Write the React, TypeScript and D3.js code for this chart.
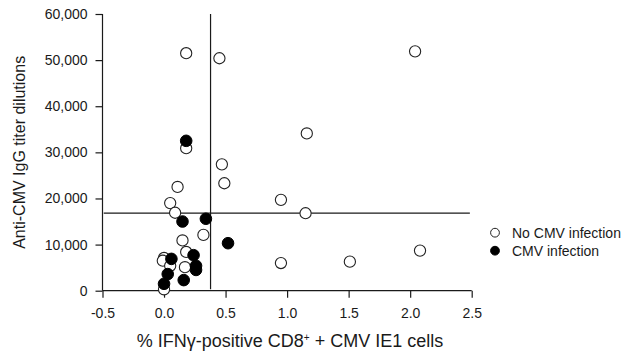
import React, { useEffect, useRef } from "react";
import * as d3 from "d3";

// % IFNg-positive CD8+ cells vs anti-CMV IgG titer
const noInfX = [0.18, 0.45, 2.04, 1.16, 0.18, 0.47, 0.49, 0.11, 0.05, 0.09, 0.95, 1.15, 0.32, 0.15, 0.18, 0.0, -0.01, 0.05, 0.17, 0.0, 0.95, 1.51, 2.08];
const noInfY = [51500, 50400, 51900, 34100, 30900, 27400, 23300, 22500, 19000, 16900, 19700, 16800, 12100, 10900, 8400, 7100, 6500, 5400, 5100, 300, 6000, 6300, 8700];
const infX = [0.18, 0.34, 0.15, 0.52, 0.24, 0.06, 0.26, 0.26, 0.03, 0.16, 0.0];
const infY = [32500, 15600, 15000, 10300, 7700, 6900, 5400, 4500, 3600, 2300, 1500];

const xTicks = [-0.5, 0, 0.5, 1, 1.5, 2, 2.5];
const yTicks = [0, 10000, 20000, 30000, 40000, 50000, 60000];
const cutX = 0.378; // vertical threshold
const cutY = 16800; // horizontal threshold

const legendItems = [
  { label: "No CMV infection", filled: false },
  { label: "CMV infection", filled: true },
];

const FONT = "'Liberation Sans', Arial, Helvetica, sans-serif";
const INK = "#1a1a1a";

const App = () => {
  const svgRef = useRef<SVGSVGElement>(null);

  useEffect(() => {
    const width = 636;
    const height = 354;
    const svg = d3.select(svgRef.current);
    svg.selectAll("*").remove();
    svg.attr("width", width).attr("height", height);

    const x = d3.scaleLinear().domain([-0.5, 2.5]).range([102.5, 471.7]);
    const y = d3.scaleLinear().domain([0, 60000]).range([290.7, 14]);

    // y axis
    const gy = svg
      .append("g")
      .attr("transform", `translate(${x(-0.5)},0)`)
      .call(
        d3
          .axisLeft(y)
          .tickValues(yTicks)
          .tickSize(7)
          .tickPadding(8)
          .tickFormat((d) => d3.format(",")(d as number))
      );
    gy.select(".domain").attr("d", `M0,${y(60000)}V${y(0)}`);

    // x axis
    const gx = svg
      .append("g")
      .attr("transform", `translate(0,${y(0)})`)
      .call(
        d3
          .axisBottom(x)
          .tickValues(xTicks)
          .tickSize(7)
          .tickPadding(10)
          .tickFormat((d) => (d as number).toFixed(1))
      );
    gx.select(".domain").attr("d", `M${x(-0.5)},0H${x(2.5)}`);

    svg.selectAll(".domain").attr("stroke", INK).attr("stroke-width", 1.2);
    svg.selectAll(".tick line").attr("stroke", INK).attr("stroke-width", 1.2);
    svg
      .selectAll(".tick text")
      .attr("fill", INK)
      .style("font-family", FONT)
      .style("font-size", "14px");

    // threshold lines
    svg
      .append("line")
      .attr("x1", x(cutX))
      .attr("x2", x(cutX))
      .attr("y1", y(60000))
      .attr("y2", y(0) - 1.5)
      .attr("stroke", INK)
      .attr("stroke-width", 1.2);
    svg
      .append("line")
      .attr("x1", x(-0.49))
      .attr("x2", x(2.485))
      .attr("y1", y(cutY))
      .attr("y2", y(cutY))
      .attr("stroke", INK)
      .attr("stroke-width", 1.2);

    // points: open first, filled on top
    const open = noInfX.map((v, i) => ({ x: v, y: noInfY[i] }));
    const filled = infX.map((v, i) => ({ x: v, y: infY[i] }));

    svg
      .append("g")
      .selectAll("circle")
      .data(open)
      .join("circle")
      .attr("cx", (d) => x(d.x))
      .attr("cy", (d) => y(d.y))
      .attr("r", 5.6)
      .attr("fill", "white")
      .attr("stroke", "#222")
      .attr("stroke-width", 1.1);

    svg
      .append("g")
      .selectAll("circle")
      .data(filled)
      .join("circle")
      .attr("cx", (d) => x(d.x))
      .attr("cy", (d) => y(d.y))
      .attr("r", 5.8)
      .attr("fill", "#000")
      .attr("stroke", "#000")
      .attr("stroke-width", 1);

    // legend
    const legend = svg.append("g").attr("transform", "translate(495,232.7)");
    legendItems.forEach((item, i) => {
      const row = legend.append("g").attr("transform", `translate(0,${i * 18})`);
      row
        .append("circle")
        .attr("r", 4.4)
        .attr("fill", item.filled ? "#000" : "white")
        .attr("stroke", item.filled ? "#000" : "#222")
        .attr("stroke-width", 1);
      row
        .append("text")
        .attr("x", 17)
        .attr("y", 5)
        .attr("fill", INK)
        .style("font-family", FONT)
        .style("font-size", "14px")
        .text(item.label);
    });

    // axis titles
    const xt = svg
      .append("text")
      .attr("x", 290)
      .attr("y", 347)
      .attr("text-anchor", "middle")
      .attr("fill", INK)
      .style("font-family", FONT)
      .style("font-size", "18px");
    xt.append("tspan").text("% IFNγ-positive CD8");
    xt.append("tspan").attr("dy", -6).style("font-size", "10px").text("+");
    xt.append("tspan").attr("dy", 6).text(" + CMV IE1 cells");

    svg
      .append("text")
      .attr("transform", `translate(25,${(y(0) + y(60000)) / 2}) rotate(-90)`)
      .attr("text-anchor", "middle")
      .attr("fill", INK)
      .style("font-family", FONT)
      .style("font-size", "16px")
      .text("Anti-CMV IgG titer dilutions");
  }, []);

  return (
    <svg
      ref={svgRef}
      style={{ position: "absolute", left: 0, top: 0, background: "white", display: "block" }}
    ></svg>
  );
};

export default App;
